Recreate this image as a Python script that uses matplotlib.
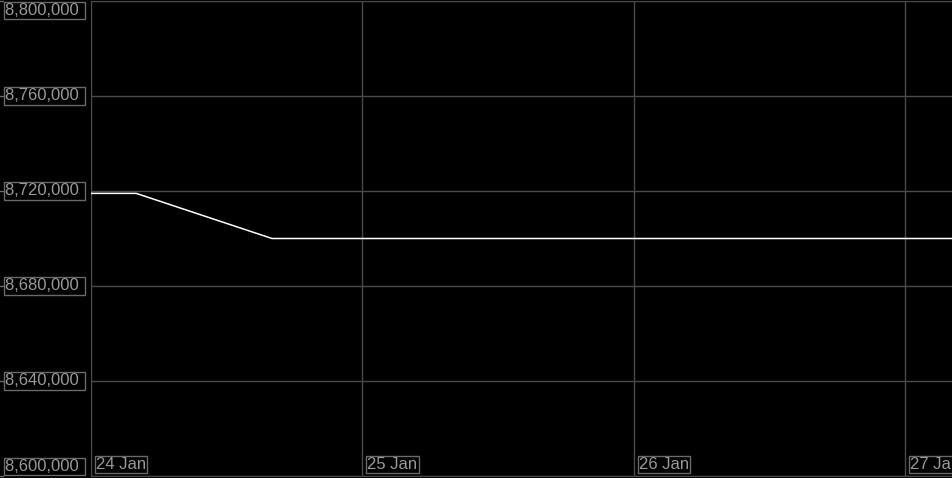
import matplotlib.pyplot as plt
import matplotlib.dates as mdates
from datetime import datetime

# Data
times = [datetime(2024, 1, 23, 20, 0), datetime(2024, 1, 24, 4, 0),
         datetime(2024, 1, 24, 16, 0), datetime(2024, 1, 27, 8, 0)]
values = [8719000, 8719000, 8700000, 8700000]

y_ticks = [8600000, 8640000, 8680000, 8720000, 8760000, 8800000]
x_ticks = [datetime(2024, 1, 24), datetime(2024, 1, 25),
           datetime(2024, 1, 26), datetime(2024, 1, 27)]

GRID = "#4a4a4a"
BOX = "#6a6a6a"
TEXT = "#999999"

plt.rcParams['font.family'] = ['Liberation Sans', 'DejaVu Sans']

fig = plt.figure(figsize=(9.53, 4.78), dpi=100, facecolor="black")
ax = fig.add_axes([91 / 953, 2 / 478, 862 / 953, 475 / 478], facecolor="black")

ax.plot(times, values, color="white", linewidth=1.1, zorder=3)

ax.set_xlim(datetime(2024, 1, 24), datetime(2024, 1, 27, 4, 12))
ax.set_ylim(8600000, 8800000)

ax.set_xticks(x_ticks)
ax.set_yticks(y_ticks)
ax.tick_params(left=False, bottom=False, labelleft=False, labelbottom=False)
ax.grid(True, color=GRID, linewidth=1)
for s in ax.spines.values():
    s.set_color(GRID)
ax.spines["right"].set_visible(False)

box = dict(boxstyle="square,pad=0.08", facecolor="black", edgecolor=BOX, linewidth=1)
FS = 12

# y labels in boxes left of the plot
ytr = ax.get_yaxis_transform()
for v in y_ticks:
    if v == y_ticks[-1]:
        va, dy = "top", -2
    elif v == y_ticks[0]:
        va, dy = "bottom", 2
    else:
        va, dy = "center", 0
    ax.annotate(f"{v:,} ", xy=(0, v), xycoords=ytr, xytext=(-86, dy),
                textcoords="offset pixels", ha="left", va=va, fontsize=FS,
                color=TEXT, bbox=box, annotation_clip=False)
    ax.plot([-91 / 862, -88 / 862], [v, v], transform=ytr, color=BOX,
            linewidth=1, clip_on=False)

# x labels in boxes inside the plot
xtr = ax.get_xaxis_transform()
for d in x_ticks:
    ax.annotate(d.strftime("%d %b").lstrip("0"), xy=(mdates.date2num(d), 0), xycoords=xtr,
                xytext=(5, 4), textcoords="offset pixels", ha="left", va="bottom",
                fontsize=FS, color=TEXT, bbox=box, annotation_clip=False, clip_on=True)

fig.savefig("out.png", dpi=100, facecolor="black")
